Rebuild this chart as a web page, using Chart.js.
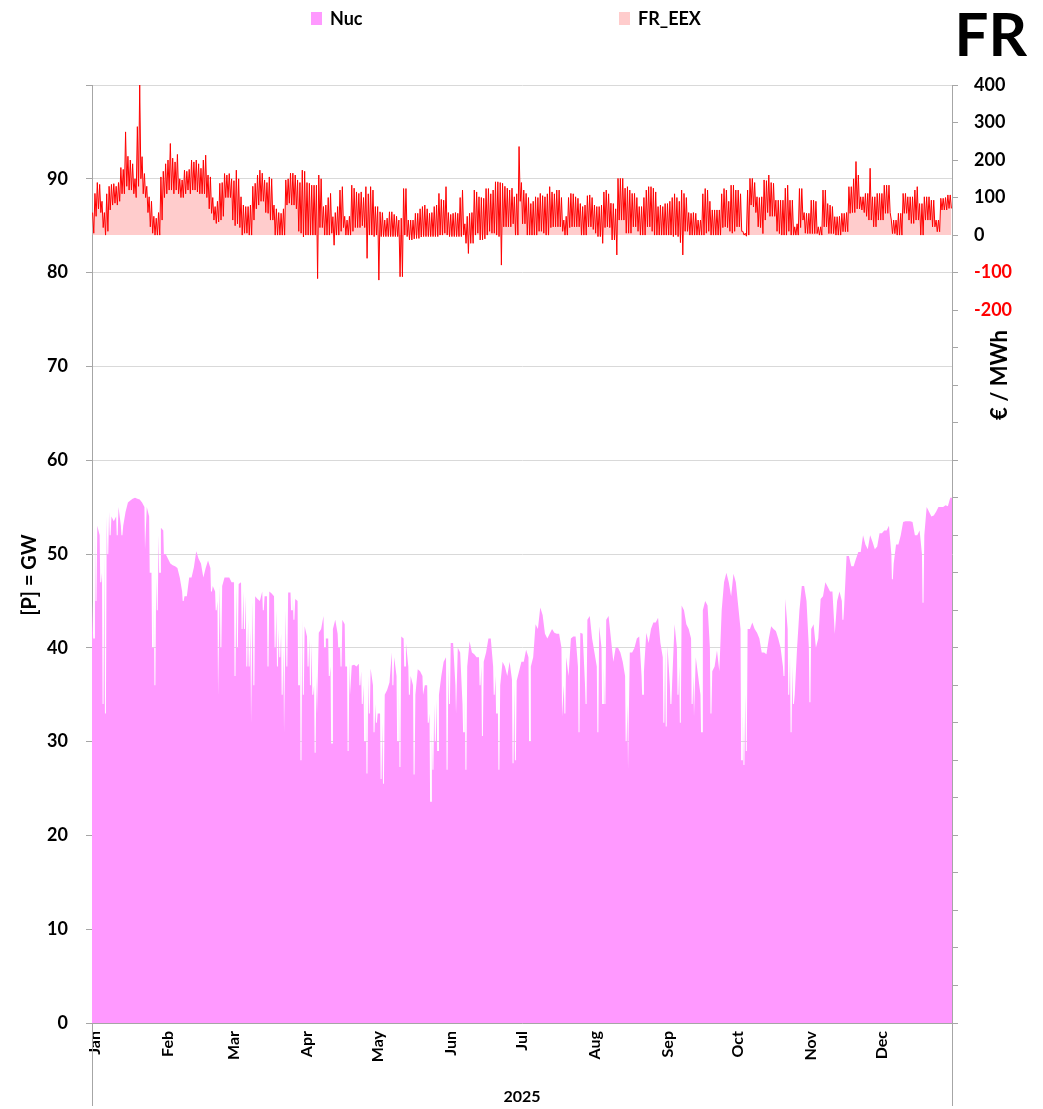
<!DOCTYPE html>
<html>
<head>
<meta charset="utf-8">
<title>FR Nuc / FR_EEX</title>
<script src="https://cdn.jsdelivr.net/npm/chart.js@4.4.1/dist/chart.umd.min.js"></script>
<style>
  html, body { margin: 0; padding: 0; background: #fff; }
  #wrap { width: 1043px; height: 1109px; }
</style>
</head>
<body>
<div id="wrap"><canvas id="chart" width="1043" height="1109"></canvas></div>
<script>
// --- data (day 0 = 1 Jan 2025) ---
const monthLabels = ['Jan', 'Feb', 'Mar', 'Apr', 'May', 'Jun', 'Jul', 'Aug', 'Sep', 'Oct', 'Nov', 'Dec'];
const monthStarts = [0, 31, 59, 90, 120, 151, 181, 212, 243, 273, 304, 334];
const yearLabel = '2025';

// nuclear generation, daily high [GW]
const nucMax = [
  45, 53, 53, 52, 48, 50, 54, 54.5, 54, 53.5,
  54, 55, 53, 53, 54.5, 55.5, 55.7, 55.9, 56, 55.9,
  55.8, 55.5, 55, 55, 54, 48, 45, 47.5, 52, 52.8,
  52.5, 50, 49.5, 49, 48.8, 48.7, 48.5, 47.5, 46, 45.5,
  45.5, 47.5, 47.5, 48.6, 50.3, 49.5, 49, 47.5, 48.5, 49.3,
  48.5, 46.6, 46, 45, 46.6, 46.6, 47.5, 47.5, 47.5, 47,
  47, 46.5, 46.8, 47, 46, 45.5, 43, 42, 45, 45.5,
  45.2, 45, 46, 45.5, 45.5, 46, 45.8, 45.5, 44, 42,
  41.5, 40, 44, 45.9, 45.9, 45.5, 45.2, 45, 43.4, 43,
  42.3, 41.2, 41, 40.5, 36, 37, 41.6, 42, 43.4, 41,
  41, 38, 42, 43, 41.5, 40.5, 43, 42.5, 38, 38.5,
  38.1, 38.2, 38, 38.3, 37.5, 36, 35, 37, 37.8, 36,
  34, 33, 33, 32, 35, 35.5, 36.3, 39.5, 39, 37,
  36, 41.2, 41, 40.5, 38, 37, 36, 35, 37.7, 37.5,
  37, 36, 36, 33, 31, 34, 34.5, 35, 37, 38.5,
  39, 38, 40.5, 40.5, 36, 40, 39.5, 34, 35, 38,
  40.7, 39.5, 39.3, 39, 39, 38, 38.5, 39.5, 41, 41,
  38, 37, 34, 36, 38.5, 38, 37, 38.5, 36.6, 36,
  36.5, 37.5, 38.5, 38.5, 39.8, 39, 38, 39, 42.5, 42,
  44.3, 43.5, 41.5, 41, 41.5, 42, 41.6, 41.5, 41.5, 40,
  36, 39, 37, 41, 41.2, 41.2, 38, 41.6, 41.5, 36,
  43, 43.4, 41, 39.5, 38, 42.3, 40, 38, 43, 43.4,
  41, 38.5, 40, 40, 39.5, 38.5, 37, 34, 39.5, 39.5,
  40, 41, 41.2, 37, 37.5, 41.6, 40.5, 42, 42.7, 42.7,
  43.2, 40.5, 39, 40, 40.2, 36, 36.5, 42.5, 40, 38,
  44.5, 44, 42.5, 42, 41, 37, 39, 37, 35, 44,
  45, 44.5, 40, 37.5, 38, 39.7, 37.5, 44, 47, 48,
  47, 45.5, 47.9, 47, 44.5, 42, 33, 35, 42, 42,
  42.7, 42, 41.6, 41, 39.5, 39.5, 39.3, 41, 42.3, 42,
  41.8, 41, 40, 38, 45.2, 42, 39, 38, 35, 40,
  44, 46.6, 46.6, 45, 40, 42, 42.5, 40, 41, 45.2,
  45.5, 47, 46.5, 46, 46, 41.5, 45, 46, 45, 44.5,
  49.8, 49.8, 48.7, 48.7, 49.5, 50.2, 50.2, 52, 51, 50.5,
  52, 51.3, 50.5, 50.8, 52.2, 52.2, 52.5, 52.5, 53, 50,
  49, 51, 51, 52, 53.4, 53.5, 53.5, 53.5, 53.4, 52,
  52, 52.5, 50, 52, 55, 54.5, 54, 54.1, 54.5, 55,
  55, 55, 55.2, 55.1, 56
];

// nuclear generation, daily dips [day, GW]
const nucDips = [
  [0, 41], [1, 45], [3, 47], [4, 34], [5, 33], [6, 50], [7, 52], [10, 52], [12, 52],
  [22, 50.5], [24, 48], [25, 40], [26, 36], [27, 44], [28, 48], [30, 50], [38, 45],
  [50, 46], [52, 44], [53, 35], [54, 40], [60, 37], [61, 40], [63, 42], [64, 42],
  [65, 38], [66, 38], [67, 32], [68, 36], [72, 44], [74, 38], [77, 40], [78, 38],
  [79, 39], [80, 35], [81, 31], [82, 38], [84, 44], [85, 43], [87, 36], [88, 28],
  [89, 35], [91, 38], [92, 36], [93, 35], [94, 28.8], [95, 33], [98, 40], [100, 37],
  [101, 29.8], [104, 40], [105, 38], [107, 38], [108, 29], [109, 35], [113, 36],
  [114, 34], [115, 30], [116, 26.6], [117, 33], [119, 31], [120, 32], [122, 26],
  [123, 25.5], [127, 36], [129, 30], [130, 27.3], [132, 38], [134, 35], [136, 26.5],
  [140, 35], [142, 32], [143, 23.6], [144, 27], [145, 30], [146, 29], [150, 27],
  [151, 34], [154, 33], [157, 31], [158, 27], [164, 36], [165, 30.6], [170, 35],
  [171, 33], [172, 27], [178, 27.7], [179, 28], [185, 30], [199, 32.7], [200, 33],
  [206, 31], [209, 34], [214, 31], [216, 34], [217, 34], [226, 30], [227, 27.1],
  [233, 35], [242, 32], [243, 31.6], [245, 34], [248, 35], [249, 32], [254, 34],
  [255, 32.7], [258, 31], [262, 33], [275, 28], [276, 27.5], [277, 29], [293, 37],
  [295, 35], [296, 31], [297, 34], [304, 34.2], [318, 43], [339, 47.3], [352, 44.8]
];

// FR_EEX day-ahead price, daily high [EUR/MWh]
const priceMax = [
  60, 111, 140, 135, 90, 60, 110, 130, 135, 137,
  130, 140, 180, 175, 275, 210, 200, 190, 150, 289,
  400, 209, 164, 130, 102, 90, 50, 45, 60, 155,
  170, 190, 200, 244, 205, 195, 215, 150, 147, 173,
  170, 175, 200, 195, 200, 190, 178, 200, 213, 160,
  155, 100, 76, 90, 138, 140, 164, 160, 164, 150,
  145, 173, 150, 102, 80, 76, 76, 80, 130, 138,
  160, 173, 165, 147, 140, 155, 150, 80, 70, 60,
  58, 70, 147, 150, 165, 165, 160, 147, 140, 173,
  170, 140, 138, 133, 133, 133, 160, 150, 76, 80,
  100, 111, 49, 60, 76, 120, 129, 50, 40, 50,
  133, 125, 115, 111, 115, 100, 129, 110, 129, 120,
  76, 76, 62, 60, 40, 45, 62, 62, 55, 50,
  40, 45, 124, 124, 40, 40, 40, 58, 58, 70,
  76, 80, 70, 58, 60, 76, 80, 111, 95, 93,
  129, 60, 55, 58, 60, 58, 100, 120, 30, 50,
  58, 60, 120, 115, 102, 100, 98, 124, 124, 110,
  120, 142, 142, 140, 138, 130, 125, 120, 125, 102,
  110, 236, 140, 120, 111, 100, 84, 90, 102, 100,
  111, 105, 102, 110, 129, 115, 110, 120, 120, 100,
  40, 50, 100, 111, 110, 102, 98, 84, 76, 80,
  105, 107, 100, 80, 76, 76, 80, 115, 120, 110,
  85, 84, 70, 151, 151, 151, 125, 129, 120, 111,
  111, 100, 76, 76, 100, 120, 129, 129, 125, 115,
  76, 80, 76, 84, 84, 90, 100, 110, 100, 90,
  120, 111, 100, 60, 58, 60, 58, 40, 40, 110,
  124, 120, 90, 67, 67, 67, 67, 110, 124, 120,
  90, 133, 133, 120, 120, 110, 10, 5, 120, 151,
  151, 140, 102, 100, 102, 147, 145, 160, 140, 138,
  93, 93, 93, 93, 125, 133, 93, 93, 22, 30,
  124, 124, 60, 58, 58, 93, 93, 90, 22, 22,
  120, 120, 84, 80, 76, 49, 49, 50, 58, 58,
  60, 129, 129, 150, 196, 160, 102, 102, 111, 111,
  178, 102, 102, 111, 111, 111, 133, 133, 133, 40,
  40, 40, 58, 58, 111, 111, 102, 102, 102, 120,
  129, 84, 84, 102, 102, 102, 93, 93, 40, 40,
  98, 98, 100, 107, 107
];

// FR_EEX day-ahead price, daily low [EUR/MWh]
const priceMin = [
  5, 50, 70, 60, 20, 0, 10, 67, 80, 85,
  80, 90, 110, 110, 130, 120, 120, 110, 100, 130,
  150, 110, 100, 60, 22, 5, 0, 0, 0, 40,
  100, 110, 120, 120, 110, 120, 110, 100, 100, 110,
  120, 110, 120, 120, 115, 110, 110, 110, 100, 70,
  58, 40, 31, 35, 40, 50, 100, 100, 100, 40,
  25, 30, 20, 0, 5, 5, 0, 0, 40, 70,
  80, 90, 90, 60, 58, 40, 40, 0, 0, 0,
  0, 0, 80, 85, 80, 80, 70, 10, 5, -5,
  0, 0, 0, 0, 0, -116, 20, 20, 0, 0,
  0, 5, -27, 0, 0, 10, 20, 0, 0, 0,
  10, 20, 20, 20, 25, 20, -62, 0, 0, -4,
  0, -120, -4, -4, -4, -4, -4, -4, -4, -4,
  -111, -111, 0, -4, -13, -13, -10, -9, -9, -5,
  -4, -4, -4, -4, -4, -4, -4, 0, 0, 5,
  0, -4, -4, -4, -4, -4, -4, 0, -22, -49,
  -22, -22, 0, 5, -13, -13, -10, 0, 10, 5,
  5, 0, -4, -80, 22, 22, 22, 22, 30, 0,
  0, 90, 30, 30, 0, 0, 0, 0, 0, 10,
  10, 5, 0, 0, 20, 22, 22, 22, 22, 10,
  0, 0, 20, 22, 22, 22, 22, 0, 0, 0,
  22, 22, 15, 5, -4, -4, -22, 20, 22, 20,
  -13, -13, -53, 40, 40, 40, 5, 5, 5, 22,
  22, 10, 0, 0, 0, 22, 22, 10, 0, 0,
  0, 0, 0, 0, 0, 0, -4, 0, -4, -20,
  -53, 10, 10, 0, 0, 0, 0, 0, 0, 0,
  5, 10, 0, 0, 0, 0, 0, 20, 22, 20,
  10, 5, 10, 22, 22, 10, 0, -3, 0, 80,
  75, 60, 22, 20, 4, 40, 60, 50, 50, 50,
  10, 4, 0, 0, 0, 10, 0, 0, 0, 0,
  20, 40, 5, 4, 4, 4, 4, 4, 0, 0,
  22, 22, 4, 4, 4, 0, 0, 0, 9, 9,
  9, 58, 60, 60, 70, 70, 67, 60, 50, 40,
  40, 22, 22, 40, 40, 40, 58, 58, 60, 4,
  4, 0, 0, 0, 58, 58, 40, 31, 31, 40,
  40, 0, 0, 40, 40, 40, 22, 22, 9, 9,
  67, 67, 67, 71, 71
];

// --- points for the linear day axis ---
// each day: its high early in the day, then a short flat notch for a dip
const nucPoints = [];
nucMax.forEach((v, d) => {
  nucPoints.push({ x: d === 0 ? 0 : d + 0.25, y: v });
  nucDips.filter(p => p[0] === d).forEach(p => {
    nucPoints.push({ x: d + 0.5, y: p[1] });
    nucPoints.push({ x: d + 0.9, y: p[1] });
  });
  if (d === nucMax.length - 1) nucPoints.push({ x: d + 1, y: v });
});

const pricePoints = [];
priceMax.forEach((v, d) => {
  pricePoints.push({ x: d + 0.25, y: v });
  pricePoints.push({ x: d + 0.75, y: priceMin[d] });
});

const FONT = 'Lato';
const AXIS_GREY = '#A6A6A6';

// legend, big title, axis titles and the axis lines running down past the dates
const decorations = {
  id: 'decorations',
  afterDraw(chart) {
    const ctx = chart.ctx;
    const area = chart.chartArea;
    ctx.save();

    ctx.strokeStyle = AXIS_GREY;
    ctx.lineWidth = 1;
    [area.left, area.right].forEach(x => {
      const px = Math.round(x - 0.5) + 0.5;
      ctx.beginPath();
      ctx.moveTo(px, area.bottom);
      ctx.lineTo(px, 1106);
      ctx.stroke();
    });

    // legend
    const legendX = [311, 619];
    ctx.font = 'bold 18px ' + FONT;
    ctx.textAlign = 'left';
    ctx.textBaseline = 'alphabetic';
    chart.data.datasets.forEach((ds, i) => {
      ctx.fillStyle = ds.legendColor;
      ctx.fillRect(legendX[i], 12, 11, 13);
      ctx.fillStyle = '#000';
      ctx.fillText(ds.label, legendX[i] + 19, 25);
    });

    // country title
    ctx.font = 'bold 60px ' + FONT;
    ctx.textAlign = 'right';
    ctx.fillText('FR', 1027, 56);

    // axis titles
    ctx.textAlign = 'center';
    ctx.textBaseline = 'middle';
    ctx.font = 'bold 20px ' + FONT;
    ctx.save();
    ctx.translate(30, 575);
    ctx.rotate(-Math.PI / 2);
    ctx.fillText('[P] = GW', 0, 0);
    ctx.restore();

    ctx.font = 'bold 22px ' + FONT;
    ctx.save();
    ctx.translate(1000, 375);
    ctx.rotate(-Math.PI / 2);
    ctx.fillText('€ / MWh', 0, 0);
    ctx.restore();

    ctx.restore();
  }
};

const ctx = document.getElementById('chart').getContext('2d');
const chart = new Chart(ctx, {
  type: 'line',
  data: {
    datasets: [
      {
        label: 'Nuc',
        data: nucPoints,
        yAxisID: 'y',
        borderColor: '#FF99FF',
        backgroundColor: '#FF99FF',
        legendColor: '#FF99FF',
        borderWidth: 0,
        pointRadius: 0,
        tension: 0,
        fill: 'origin'
      },
      {
        label: 'FR_EEX',
        data: pricePoints,
        yAxisID: 'y2',
        borderColor: '#FF0000',
        backgroundColor: '#FFCCCC',
        legendColor: '#FFCCCC',
        borderWidth: 1,
        pointRadius: 0,
        tension: 0,
        fill: 'origin'
      }
    ]
  },
  options: {
    responsive: false,
    animation: false,
    devicePixelRatio: 1,
    layout: { padding: { top: 85, left: 0, right: 0, bottom: 0 } },
    plugins: {
      legend: { display: false },
      tooltip: { enabled: false }
    },
    scales: {
      x: {
        type: 'linear',
        min: 0,
        max: 365,
        afterBuildTicks: s => { s.ticks = monthStarts.map(v => ({ value: v })); },
        afterFit: s => { s.height = 86; },
        grid: { display: false, drawTicks: false },
        border: { display: true, color: AXIS_GREY },
        ticks: {
          autoSkip: false,
          minRotation: 90,
          maxRotation: 90,
          padding: 8,
          labelOffset: 3,
          color: '#000',
          font: { family: FONT, size: 16, weight: 'bold' },
          callback: v => monthLabels[monthStarts.indexOf(v)]
        },
        title: {
          display: true,
          text: yearLabel,
          color: '#000',
          font: { family: FONT, size: 16, weight: 'bold' },
          padding: { top: 0, bottom: 3 }
        }
      },
      y: {
        position: 'left',
        min: 0,
        max: 100,
        afterFit: s => { s.width = 92; },
        grid: { color: '#D9D9D9', tickColor: AXIS_GREY, tickLength: 6 },
        border: { color: AXIS_GREY },
        ticks: {
          stepSize: 10,
          maxTicksLimit: 20,
          padding: 18,
          color: '#000',
          font: { family: FONT, size: 18, weight: 'bold' },
          callback: v => (v === 100 ? '' : v)
        }
      },
      y2: {
        position: 'right',
        min: -2100,
        max: 400,
        afterFit: s => { s.width = 91; },
        grid: { drawOnChartArea: false, tickColor: AXIS_GREY, tickLength: 6 },
        border: { color: AXIS_GREY },
        ticks: {
          stepSize: 100,
          maxTicksLimit: 30,
          padding: 16,
          color: c => (c.tick && c.tick.value < 0 ? '#FF0000' : '#000'),
          font: { family: FONT, size: 18, weight: 'bold' },
          callback: v => (v >= -200 ? v : '')
        }
      }
    }
  },
  plugins: [decorations]
});
</script>
</body>
</html>
